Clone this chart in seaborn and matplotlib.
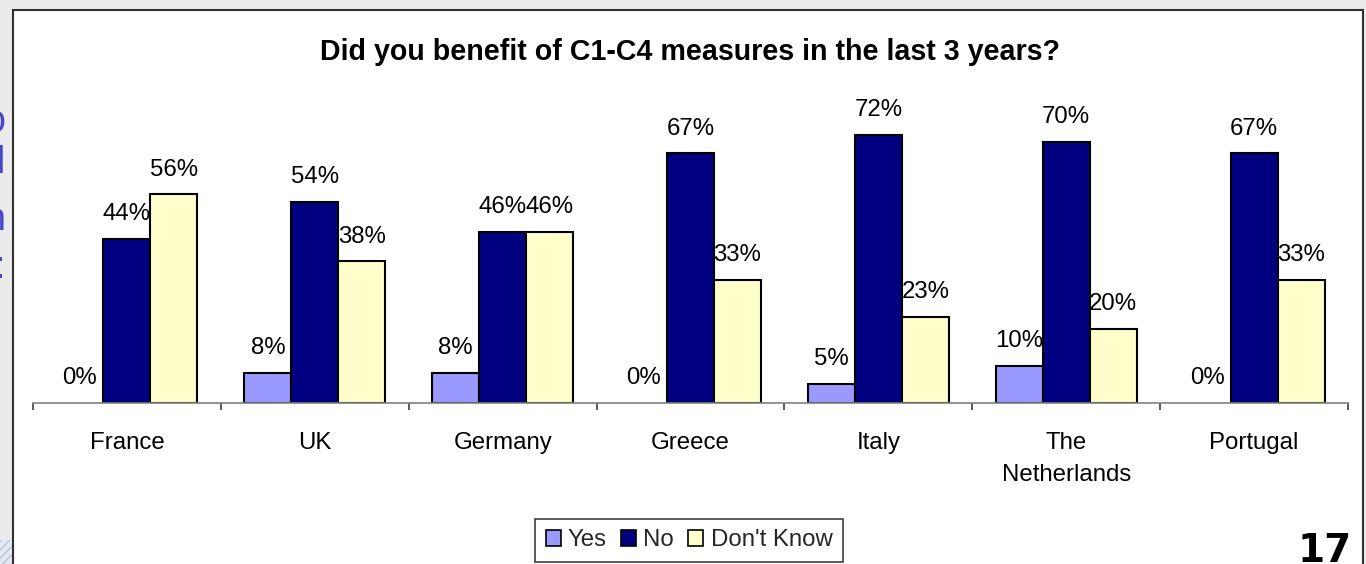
import matplotlib
matplotlib.use("Agg")
import matplotlib.pyplot as plt
from matplotlib.patches import Rectangle, Patch
import seaborn as sns
import pandas as pd

# Survey answers per country (percent of respondents)
countries = ["France", "UK", "Germany", "Greece", "Italy", "The\nNetherlands", "Portugal"]
responses = ["Yes", "No", "Don't Know"]
yes_vals = [0, 8, 8, 0, 5, 10, 0]
no_vals = [44, 54, 46, 67, 72, 70, 67]
dontknow_vals = [56, 38, 46, 33, 23, 20, 33]
colors = ["#9999ff", "#000080", "#ffffcc"]

title = "Did you benefit of C1-C4 measures in the last 3 years?"
page_number = "17"

df = pd.DataFrame({
    "country": countries * 3,
    "response": [r for r in responses for _ in countries],
    "value": yes_vals + no_vals + dontknow_vals,
})

sns.set_theme(style="white")
plt.rcParams["font.family"] = ["Liberation Sans", "DejaVu Sans"]

W, H = 1366, 564
fig = plt.figure(figsize=(W / 100, H / 100), dpi=100, facecolor="#ebebeb")

# white slide panel holding the chart
fig.patches.append(Rectangle((13 / W, -0.02), (1363 - 13) / W, (H - 10) / H + 0.02,
                             transform=fig.transFigure, facecolor="white",
                             edgecolor="#303030", linewidth=1.5, zorder=-10))

# cut-off text fragments at the left edge of the slide
for y, s in [(122, "o"), (163, "l"), (220, "n"), (268, ":")]:
    fig.text(5 / W, 1 - y / H, s, ha="right", va="center", fontsize=27,
             color="#4646c8")

# hatched corner decoration
fig.patches.append(Rectangle((0, 0), 12 / W, 24 / H, transform=fig.transFigure,
                             facecolor="#e4e8f0", edgecolor="#b8c4dc", hatch="////",
                             linewidth=0, zorder=-10))

ax = fig.add_axes([33 / W, 161 / H, 1315 / W, 298 / H])
ax.patch.set_alpha(0)

sns.barplot(data=df, x="country", y="value", hue="response", order=countries,
            hue_order=responses, palette=colors, saturation=1, width=0.75,
            edgecolor="black", linewidth=1.5, errorbar=None, legend=False, ax=ax)

for p in ax.patches:
    if p.get_height() == 0:
        p.set_linewidth(0)

for c in ax.containers:
    ax.bar_label(c, fmt="%d%%", padding=10, fontsize=17.3, color="black")

ax.set_ylim(0, 80)
ax.set_xlim(-0.5, len(countries) - 0.5)
ax.set_yticks([])
ax.set_xlabel("")
ax.set_ylabel("")
for side in ["top", "right", "left"]:
    ax.spines[side].set_visible(False)
ax.spines["bottom"].set_color("#808080")
ax.spines["bottom"].set_linewidth(1.2)

ax.set_xticks(range(len(countries)))
ax.set_xticklabels(countries, fontsize=17.3, color="black")
ax.tick_params(axis="x", which="major", length=0, pad=21)
ax.set_xticks([i - 0.5 for i in range(len(countries) + 1)], minor=True)
ax.tick_params(axis="x", which="minor", length=5, width=1.2, color="#404040",
               direction="out", bottom=True)
for lbl in ax.get_xticklabels():
    lbl.set_linespacing(1.55)

fig.text(690 / W, 1 - 60 / H, title, ha="center", va="baseline",
         fontsize=20.6, fontweight="bold", color="black")

handles = [Patch(facecolor=col, edgecolor="black", linewidth=1.2) for col in colors]
leg = fig.legend(handles, responses, ncol=3, loc="center",
                 bbox_to_anchor=(689 / W, 1 - 540.5 / H), fontsize=17.3,
                 frameon=True, fancybox=False, framealpha=1, edgecolor="#404040",
                 handlelength=0.62, handleheight=0.62, handletextpad=0.3,
                 columnspacing=0.6, borderpad=0.45)
leg.get_frame().set_linewidth(1.2)

fig.text(1352 / W, 1 - 562 / H, page_number, ha="right", va="baseline",
         fontsize=28, fontweight="bold", family="DejaVu Sans", color="black")

fig.savefig("out.png", dpi=100, facecolor=fig.get_facecolor())
